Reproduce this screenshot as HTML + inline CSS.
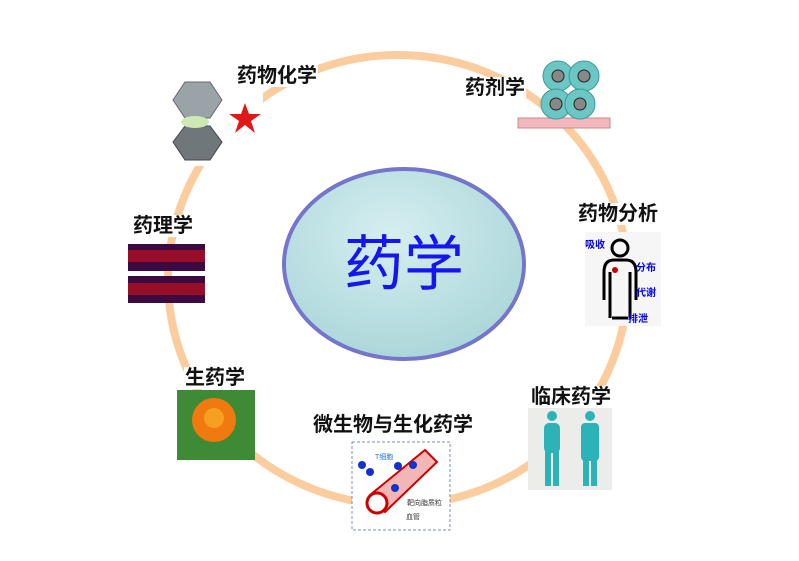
<!DOCTYPE html>
<html><head><meta charset="utf-8"><style>
body{margin:0;width:799px;height:561px;background:#fff;overflow:hidden;position:relative;font-family:"Liberation Sans","Noto Sans CJK SC",sans-serif}
.l{position:absolute;font-weight:bold;font-size:20px;color:#111;background:#fff;line-height:22px;white-space:nowrap;padding:0 1px}
</style></head><body>
<svg width="799" height="561" style="position:absolute;left:0;top:0">
<defs><radialGradient id="g" cx="45%" cy="35%" r="70%"><stop offset="0" stop-color="#d6eef0"/><stop offset="1" stop-color="#a8d5d8"/></radialGradient></defs>
<ellipse cx="398" cy="280" rx="230" ry="225" fill="none" stroke="#fbcd9e" stroke-width="8"/>
<ellipse cx="404" cy="264" rx="120" ry="95" fill="url(#g)" stroke="#7575cc" stroke-width="4"/>
<text x="404" y="285" font-size="60" fill="#1515ee" text-anchor="middle" font-family="Noto Sans CJK SC,sans-serif">药学</text>
<rect x="163" y="80" width="100" height="86" fill="#fff"/>
<polygon points="185,82 210,82 222,100 210,118 185,118 173,100" fill="#9aa4a8" stroke="#667"/>
<polygon points="185,126 210,126 222,142 210,160 185,160 173,142" fill="#6f777a" stroke="#445"/>
<ellipse cx="195" cy="122" rx="14" ry="6" fill="#cfe9b5"/>
<polygon points="245,103 249,114 261,114 251,121 255,133 245,125 235,133 239,121 229,114 241,114" fill="#e01818"/>
<rect x="518" y="118" width="92" height="10" fill="#f2b7bf" stroke="#c88"/>
<g fill="#6cc6c4" stroke="#3a9a98"><circle cx="558" cy="76" r="15"/><circle cx="584" cy="76" r="15"/><circle cx="556" cy="104" r="15"/><circle cx="580" cy="104" r="15"/></g>
<g fill="#888" stroke="#222"><circle cx="558" cy="76" r="6"/><circle cx="584" cy="76" r="6"/><circle cx="556" cy="104" r="6"/><circle cx="580" cy="104" r="6"/></g>
<rect x="128" y="244" width="77" height="27" fill="#3a0a40"/><rect x="128" y="276" width="77" height="27" fill="#3a0a40"/>
<rect x="128" y="250" width="77" height="12" fill="#c01020" opacity=".7"/><rect x="128" y="283" width="77" height="12" fill="#c01020" opacity=".7"/>
<rect x="585" y="232" width="76" height="94" fill="#f6f6f6"/>
<circle cx="620" cy="248" r="8" fill="none" stroke="#000" stroke-width="3"/>
<path d="M604 300 V272 Q604 260 614 260 H626 Q636 260 636 272 V300 M610 318 V272 M630 318 V272 M612 318 H628" fill="none" stroke="#000" stroke-width="3"/>
<circle cx="615" cy="270" r="3" fill="#c00"/>
<text x="585" y="248" font-size="10" font-weight="bold" fill="#00e">吸收</text>
<text x="636" y="271" font-size="10" font-weight="bold" fill="#00e">分布</text>
<text x="636" y="296" font-size="10" font-weight="bold" fill="#00e">代谢</text>
<text x="628" y="322" font-size="10" font-weight="bold" fill="#00e">排泄</text>
<rect x="177" y="390" width="78" height="70" fill="#3f8a35"/>
<circle cx="214" cy="420" r="22" fill="#f07a10"/><circle cx="214" cy="418" r="10" fill="#f5a020"/>
<rect x="352" y="442" width="98" height="88" fill="#fff" stroke="#7a8fb5" stroke-dasharray="3,2"/>
<path d="M370 495 L425 450 L437 462 L385 512 Z" fill="#f3b6b6" stroke="#c00" stroke-width="2"/>
<circle cx="377" cy="503" r="10" fill="#fff" stroke="#c00" stroke-width="3"/>
<g fill="#1133cc"><circle cx="362" cy="465" r="4"/><circle cx="370" cy="472" r="4"/><circle cx="398" cy="466" r="4"/><circle cx="413" cy="465" r="4"/><circle cx="395" cy="488" r="4"/></g>
<text x="375" y="459" font-size="7" fill="#2277dd">T细胞</text>
<text x="407" y="505" font-size="7" fill="#333">靶向脂质粒</text>
<text x="406" y="519" font-size="7" fill="#333">血管</text>
<rect x="528" y="408" width="84" height="82" fill="#ececea"/>
<g fill="#2bb3b8"><circle cx="552" cy="416" r="5"/><rect x="544" y="423" width="16" height="30" rx="5"/><rect x="545" y="450" width="6" height="36"/><rect x="553" y="450" width="6" height="36"/>
<circle cx="590" cy="416" r="5"/><rect x="581" y="423" width="18" height="38" rx="4"/><rect x="583" y="458" width="6" height="28"/><rect x="591" y="458" width="6" height="28"/></g>
</svg>
<div class="l" style="left:236px;top:65px">药物化学</div>
<div class="l" style="left:464px;top:77px">药剂学</div>
<div class="l" style="left:577px;top:203px">药物分析</div>
<div class="l" style="left:132px;top:215px">药理学</div>
<div class="l" style="left:184px;top:367px">生药学</div>
<div class="l" style="left:312px;top:414px">微生物与生化药学</div>
<div class="l" style="left:530px;top:386px">临床药学</div>
</body></html>
